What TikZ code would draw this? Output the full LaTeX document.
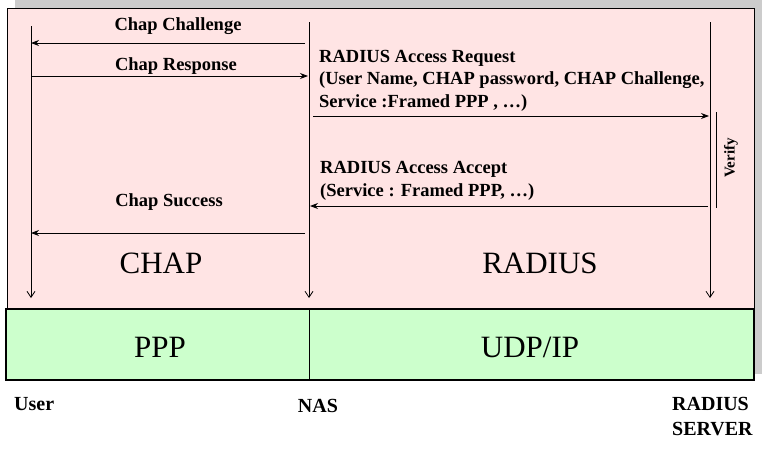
\documentclass[tikz,border=0pt]{standalone}
\usepackage{fontspec}
\setmainfont{Liberation Serif}
\usetikzlibrary{arrows.meta}
\definecolor{pinkbg}{RGB}{255,228,228}
\definecolor{greenbg}{RGB}{204,255,204}
\definecolor{shadow}{RGB}{204,204,204}
\begin{document}
\begin{tikzpicture}[x=1pt,y=-1pt,
  msg/.style={draw,line width=0.9pt,-{Stealth[length=8pt,width=6pt]}},
  life/.style={draw,line width=0.8pt,-{Straight Barb[length=6pt,width=8pt]}},
  lbl/.style={font=\fontsize{18.5}{22.5}\selectfont\bfseries,inner sep=0pt,align=left},
  big/.style={font=\fontsize{31}{32}\selectfont,inner sep=0pt},
  ent/.style={font=\fontsize{20}{24.5}\selectfont\bfseries,inner sep=0pt,align=left}]
\useasboundingbox (0,0) rectangle (771,453);
\fill[shadow] (15,0) rectangle (762,374);
\draw[fill=pinkbg,line width=1pt] (7,8) rectangle (754,309);
\draw[fill=greenbg,line width=1.2pt] (6,309) rectangle (754,380);
\draw[line width=0.8pt] (309,309) -- (309,380);
% lifelines
\coordinate (u0) at (31,26); \coordinate (u1) at (31,298);
\coordinate (n0) at (309,22); \coordinate (n1) at (309,298);
\coordinate (r0) at (710,22); \coordinate (r1) at (710,298);
\draw[life] (u0) -- (u1);
\draw[life] (n0) -- (n1);
\draw[life] (r0) -- (r1);
% messages
\coordinate (a1s) at (305,43); \coordinate (a1e) at (31,43);
\draw[msg] (a1s) -- (a1e);
\node[lbl,anchor=base] (t1) at (178,30) {Chap Challenge};
\coordinate (a2s) at (31,76); \coordinate (a2e) at (308,76);
\draw[msg] (a2s) -- (a2e);
\node[lbl,anchor=base] (t2) at (176,70) {Chap Response};
\node[lbl,anchor=base west] (t3) at (319,107) {RADIUS Access Request\\(User Name, CHAP password, CHAP Challenge,\\Service :Framed PPP , \dots)};
\coordinate (a3s) at (313,116); \coordinate (a3e) at (709,116);
\draw[msg] (a3s) -- (a3e);
\coordinate (v0) at (716,112); \coordinate (v1) at (716,208);
\draw[line width=0.8pt] (v0) -- (v1);
\node[lbl,rotate=90,font=\fontsize{15}{17}\selectfont\bfseries] (vt) at (731,158) {Verify};
\node[lbl,anchor=base west] (t4) at (320,196) {RADIUS Access Accept\\(Service : Framed PPP, \dots)};
\coordinate (a4s) at (708,206); \coordinate (a4e) at (310,206);
\draw[msg] (a4s) -- (a4e);
\node[lbl,anchor=base] (t5) at (169,206) {Chap Success};
\coordinate (a5s) at (305,233); \coordinate (a5e) at (31,233);
\draw[msg] (a5s) -- (a5e);
% layer names
\node[big,anchor=base] (chap) at (161,273) {CHAP};
\node[big,anchor=base] (radius) at (540,273) {RADIUS};
\node[big,anchor=base] (ppp) at (160,357) {PPP};
\node[big,anchor=base] (udp) at (530,357) {UDP/IP};
% entities
\node[ent,anchor=base west] (user) at (14,410) {User};
\node[ent,anchor=base] (nas) at (318,412) {NAS};
\node[ent,anchor=base west] (rs) at (672,435) {RADIUS\\SERVER};
\end{tikzpicture}
\end{document}
